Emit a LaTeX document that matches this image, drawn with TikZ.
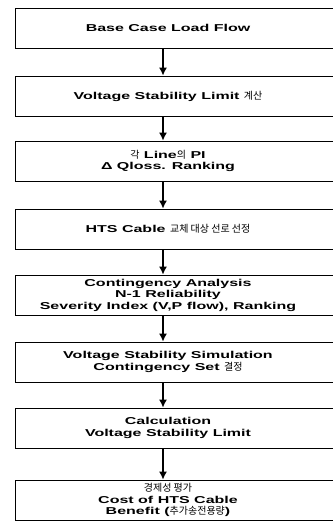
\documentclass[tikz,border=0pt]{standalone}
\usepackage{fontspec}
\setmainfont{Liberation Sans}[FakeStretch=1.6]
\newfontfamily\krfont{Noto Sans CJK KR}
\newcommand\ko[1]{{\krfont\mdseries\fontsize{10}{12}\selectfont #1}}
\usetikzlibrary{arrows.meta}

\tikzset{
  box/.style={draw, line width=0.8pt, minimum width=330pt, minimum height=40pt},
  txt/.style={align=center, xshift=-12pt, inner sep=0pt, font=\bfseries\fontsize{10}{11.5}\selectfont},
  arr/.style={-{Latex[length=8pt,width=8pt]}, line width=1.4pt}
}

\begin{document}
\begin{tikzpicture}[x=1pt,y=-1pt]
    \useasboundingbox (0,0) rectangle (332,522);

    % Steps (the boxes run past the right edge):
    \node[box, label={[txt]center:{Base Case Load Flow}}] (base) at (180,28) {};
    \node[box, label={[txt]center:{Voltage Stability Limit \ko{계산}}}] (vsl) at (180,96) {};
    \node[box, label={[txt]center:{\ko{각} Line\ko{의} PI\\Δ Qloss. Ranking}}] (rank) at (180,161) {};
    \node[box, label={[txt]center:{HTS Cable \ko{교체 대상 선로 선정}}}] (hts) at (180,229) {};
    \node[box, label={[txt]center:{Contingency Analysis\\N-1 Reliability\\Severity Index (V,P flow), Ranking}}] (cont) at (180,295) {};
    \node[box, label={[txt]center:{Voltage Stability Simulation\\Contingency Set \ko{결정}}}] (sim) at (180,362) {};
    \node[box, label={[txt]center:{Calculation\\Voltage Stability Limit}}] (calc) at (180,428) {};
    \node[box, label={[txt]center:{\ko{경제성 평가}\\Cost of HTS Cable\\Benefit (\ko{추가송전용량})}}] (cost) at (180,500) {};

    % Arrows:
    \foreach \a/\b in {base/vsl, vsl/rank, rank/hts, hts/cont, cont/sim, sim/calc, calc/cost}
        \draw[arr] ([xshift=-17pt]\a.south) -- ([xshift=-17pt]\b.north);
\end{tikzpicture}
\end{document}
